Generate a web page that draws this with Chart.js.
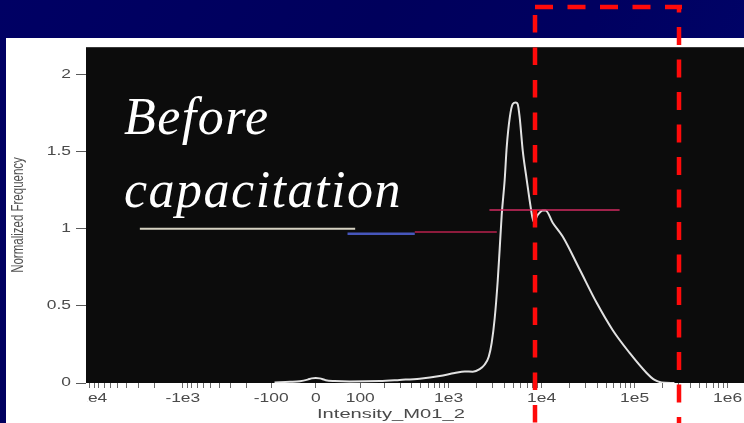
<!DOCTYPE html>
<html>
<head>
<meta charset="utf-8">
<script src="https://cdn.jsdelivr.net/npm/chart.js@4/dist/chart.umd.min.js"></script>
<style>
  html, body { margin: 0; padding: 0; }
  body {
    width: 744px; height: 423px; overflow: hidden; position: relative;
    background: linear-gradient(118deg, #000064 0%, #00005c 40%, #000060 62%, #00066e 100%);
  }
  #panel { position: absolute; left: 6px; top: 38px; width: 738px; height: 385px; background: #ffffff; }
  #panel canvas { display: block; }
  .note {
    position: absolute; left: 124px; top: 80px; color: #ffffff;
    font-family: "Liberation Serif", "DejaVu Serif", serif; font-style: italic;
    font-size: 52px; line-height: 73px; letter-spacing: 1.5px; white-space: nowrap;
  }
  .xtitle {
    position: absolute; left: 317px; top: 406px; color: #4a4a4a;
    font-family: "Liberation Sans", sans-serif; font-size: 13px; line-height: 15px;
    white-space: nowrap; transform: scaleX(1.55); transform-origin: 0 0;
  }
  svg.gateBox { position: absolute; left: 0; top: 0; pointer-events: none; }
</style>
</head>
<body>
<div id="panel"><canvas id="hist" width="738" height="385"></canvas></div>
<div class="note">Before<br>capacitation</div>
<div class="xtitle">Intensity_M01_2</div>
<svg class="gateBox" width="744" height="423">
  <line x1="535" y1="7" x2="682" y2="7" stroke="#ff0a0a" stroke-width="4.5" stroke-dasharray="18 14.5"/>
  <line x1="535" y1="15" x2="535" y2="423" stroke="#ff0a0a" stroke-width="4.5" stroke-dasharray="17.5 15"/>
  <line x1="679" y1="5" x2="679" y2="423" stroke="#ff0a0a" stroke-width="4.5" stroke-dasharray="18 14.5" stroke-dashoffset="10.5"/>
</svg>
<script>
// Histogram of Intensity_M01_2 (biexponential / arcsinh axis)
const intensity = [
  -90, -51, -30, -15, -7.4, 0, 7.4, 18.7, 36, 70, 174, 293, 487, 801, 1163, 1491, 1820,
  2160, 2447, 2702, 2907, 3132, 3373, 3544, 3726, 4013, 4217, 4543, 4895, 5268, 5535,
  5820, 6266, 6916, 7640, 8230, 9090, 10280, 11070, 13170, 16860, 25700, 39100, 58000,
  88400, 134700, 164000, 195000, 268000
];
const frequency = [
  0.004, 0.008, 0.012, 0.022, 0.03, 0.032, 0.03, 0.018, 0.013, 0.01, 0.013, 0.02, 0.028, 0.045, 0.065, 0.075, 0.073,
  0.09, 0.12, 0.17, 0.26, 0.42, 0.66, 0.87, 1.09, 1.32, 1.53, 1.72, 1.81, 1.82, 1.81,
  1.72, 1.51, 1.32, 1.14, 1.045, 1.09, 1.12, 1.12, 1.04, 0.95, 0.736, 0.52, 0.344,
  0.195, 0.065, 0.02, 0.004, 0.0
];

// Marker gates: start, end and level of each horizontal bar
const gateStart = [-2900, 65, 430, 2750];
const gateEnd   = [85, 430, 3300, 69000];
const gateLevel = [1.0, 0.968, 0.98, 1.123];
const gateColors = ['#d6d2c2', '#4656bc', '#b8204c', '#d22a60'];
const gateWidths = [2, 2.5, 1.5, 1.5];

// Axis ticks
const xTickValues = [-1e4, -1e3, -100, 0, 100, 1e3, 1e4, 1e5, 1e6];
const xTickLabels = ['-1e4', '-1e3', '-100', '0', '100', '1e3', '1e4', '1e5', '1e6'];
const yTickValues = [0, 0.5, 1, 1.5, 2];
const yTickLabels = ['0', '0.5', '1', '1.5', '2'];

const X_MIN = -11000, X_MAX = 1.5e6;
const Y_MIN = 0, Y_MAX = 2.18;
const COFACTOR = 74.6;
const LABEL_STRETCH = 1.45;

const toT = v => Math.asinh(v / COFACTOR);
const fromT = t => Math.sinh(t) * COFACTOR;

// Tick labels drawn with horizontally widened glyphs
function drawWideLabels(scale, area, stretch) {
  const ctx = scale.ctx;
  for (const item of scale.getLabelItems(area)) {
    const o = item.options;
    ctx.save();
    ctx.translate(o.translation[0], o.translation[1]);
    ctx.rotate(o.rotation);
    ctx.scale(stretch, 1);
    ctx.font = item.font.string;
    ctx.fillStyle = o.color;
    ctx.textAlign = o.textAlign;
    ctx.textBaseline = o.textBaseline;
    const lines = Array.isArray(item.label) ? item.label : [item.label];
    lines.forEach((l, j) => ctx.fillText(l, 0, item.textOffset + j * item.font.lineHeight));
    ctx.restore();
  }
}

// Arcsinh-scaled axis: linear near zero, logarithmic for large |value|
class AsinhScale extends Chart.Scale {
  static id = 'asinh';
  static defaults = {};
  determineDataLimits() {
    this.min = this.options.min;
    this.max = this.options.max;
  }
  buildTicks() {
    const ticks = xTickValues.map(v => ({ value: v, major: true }));
    for (let i = 0; i + 1 < xTickValues.length; i++) {
      const a = xTickValues[i], b = xTickValues[i + 1];
      if (a === 0 || b === 0 || Math.sign(a) !== Math.sign(b)) continue;
      const base = Math.min(Math.abs(a), Math.abs(b));
      for (let m = 2; m <= 9; m++) ticks.push({ value: Math.sign(a) * m * base });
    }
    ticks.sort((p, q) => p.value - q.value);
    return ticks;
  }
  configure() {
    super.configure();
    this._t0 = toT(this.min);
    this._t1 = toT(this.max);
  }
  getPixelForValue(value) {
    return this.getPixelForDecimal((toT(value) - this._t0) / (this._t1 - this._t0));
  }
  getValueForPixel(pixel) {
    return fromT(this._t0 + this.getDecimalForPixel(pixel) * (this._t1 - this._t0));
  }
  drawLabels(area) {
    const ctx = this.ctx;
    ctx.save();
    ctx.beginPath();
    ctx.rect(this.left + 1, this.top, this.right - this.left, this.bottom - this.top);
    ctx.clip();
    drawWideLabels(this, area, LABEL_STRETCH);
    ctx.restore();
  }
}

class WideLinearScale extends Chart.LinearScale {
  static id = 'wideLinear';
  static defaults = Chart.LinearScale.defaults;
  drawLabels(area) {
    drawWideLabels(this, area, LABEL_STRETCH);
  }
  drawTitle() {
    const t = this.options.title;
    if (!t.display) return;
    const font = Chart.helpers.toFont(t.font);
    const pad = Chart.helpers.toPadding(t.padding);
    const ctx = this.ctx;
    ctx.save();
    ctx.translate(this.left + pad.top + font.lineHeight / 2, (this.top + this.bottom) / 2);
    ctx.rotate(-Math.PI / 2);
    ctx.scale(1, LABEL_STRETCH);
    ctx.font = font.string;
    ctx.fillStyle = t.color;
    ctx.textAlign = 'center';
    ctx.textBaseline = 'middle';
    ctx.fillText(t.text, 0, 0);
    ctx.restore();
  }
}

Chart.register(AsinhScale, WideLinearScale);

const plotBackground = {
  id: 'plotBackground',
  beforeDraw(chart) {
    const { ctx, chartArea: a } = chart;
    ctx.save();
    ctx.fillStyle = '#0c0c0c';
    ctx.fillRect(a.left, a.top, a.right - a.left, a.bottom - a.top);
    ctx.strokeStyle = '#3a3a3a';
    ctx.lineWidth = 1;
    ctx.beginPath();
    ctx.moveTo(a.left, a.top + 0.5);
    ctx.lineTo(a.right, a.top + 0.5);
    ctx.stroke();
    ctx.restore();
  }
};

const gateSets = gateStart.map((s, i) => ({
  data: [{ x: s, y: gateLevel[i] }, { x: gateEnd[i], y: gateLevel[i] }],
  borderColor: gateColors[i],
  borderWidth: gateWidths[i],
  pointRadius: 0,
  tension: 0
}));

const curveSet = {
  data: intensity.map((x, i) => ({ x, y: frequency[i] })),
  borderColor: '#e2e2e2',
  borderWidth: 2,
  pointRadius: 0,
  cubicInterpolationMode: 'monotone'
};

new Chart(document.getElementById('hist'), {
  type: 'line',
  data: { datasets: [...gateSets, curveSet] },
  options: {
    responsive: false,
    animation: false,
    layout: { padding: { top: 9, right: 0, bottom: 0, left: 0 } },
    plugins: { legend: { display: false }, tooltip: { enabled: false } },
    scales: {
      x: {
        type: 'asinh',
        position: 'bottom',
        min: X_MIN,
        max: X_MAX,
        border: { display: false },
        grid: { drawOnChartArea: false, drawTicks: true, tickLength: 5, tickColor: '#6a6a6a', tickWidth: 1 },
        ticks: {
          autoSkip: false, maxRotation: 0, minRotation: 0, padding: 3,
          color: '#4a4a4a', font: { family: 'Liberation Sans', size: 12 },
          callback: v => { const i = xTickValues.indexOf(v); return i >= 0 ? xTickLabels[i] : ''; }
        },
        afterFit: s => { s.height = 40; s.paddingLeft = 0; s.paddingRight = 0; }
      },
      y: {
        type: 'wideLinear',
        position: 'left',
        min: Y_MIN,
        max: Y_MAX,
        border: { display: false },
        grid: { drawOnChartArea: false, drawTicks: true, tickLength: 10, tickColor: '#5a5a5a', tickWidth: 1 },
        ticks: {
          padding: 5, color: '#4a4a4a', font: { family: 'Liberation Sans', size: 12 },
          callback: v => { const i = yTickValues.indexOf(v); return i >= 0 ? yTickLabels[i] : ''; }
        },
        afterBuildTicks: s => { s.ticks = yTickValues.map(v => ({ value: v })); },
        title: {
          display: true, text: 'Normalized Frequency', color: '#505050',
          font: { family: 'Liberation Sans', size: 11.5 }, padding: { top: 6, bottom: 0 }
        },
        afterFit: s => { s.width = 80; s.paddingTop = 0; s.paddingBottom = 0; }
      }
    }
  },
  plugins: [plotBackground]
});
</script>
</body>
</html>
